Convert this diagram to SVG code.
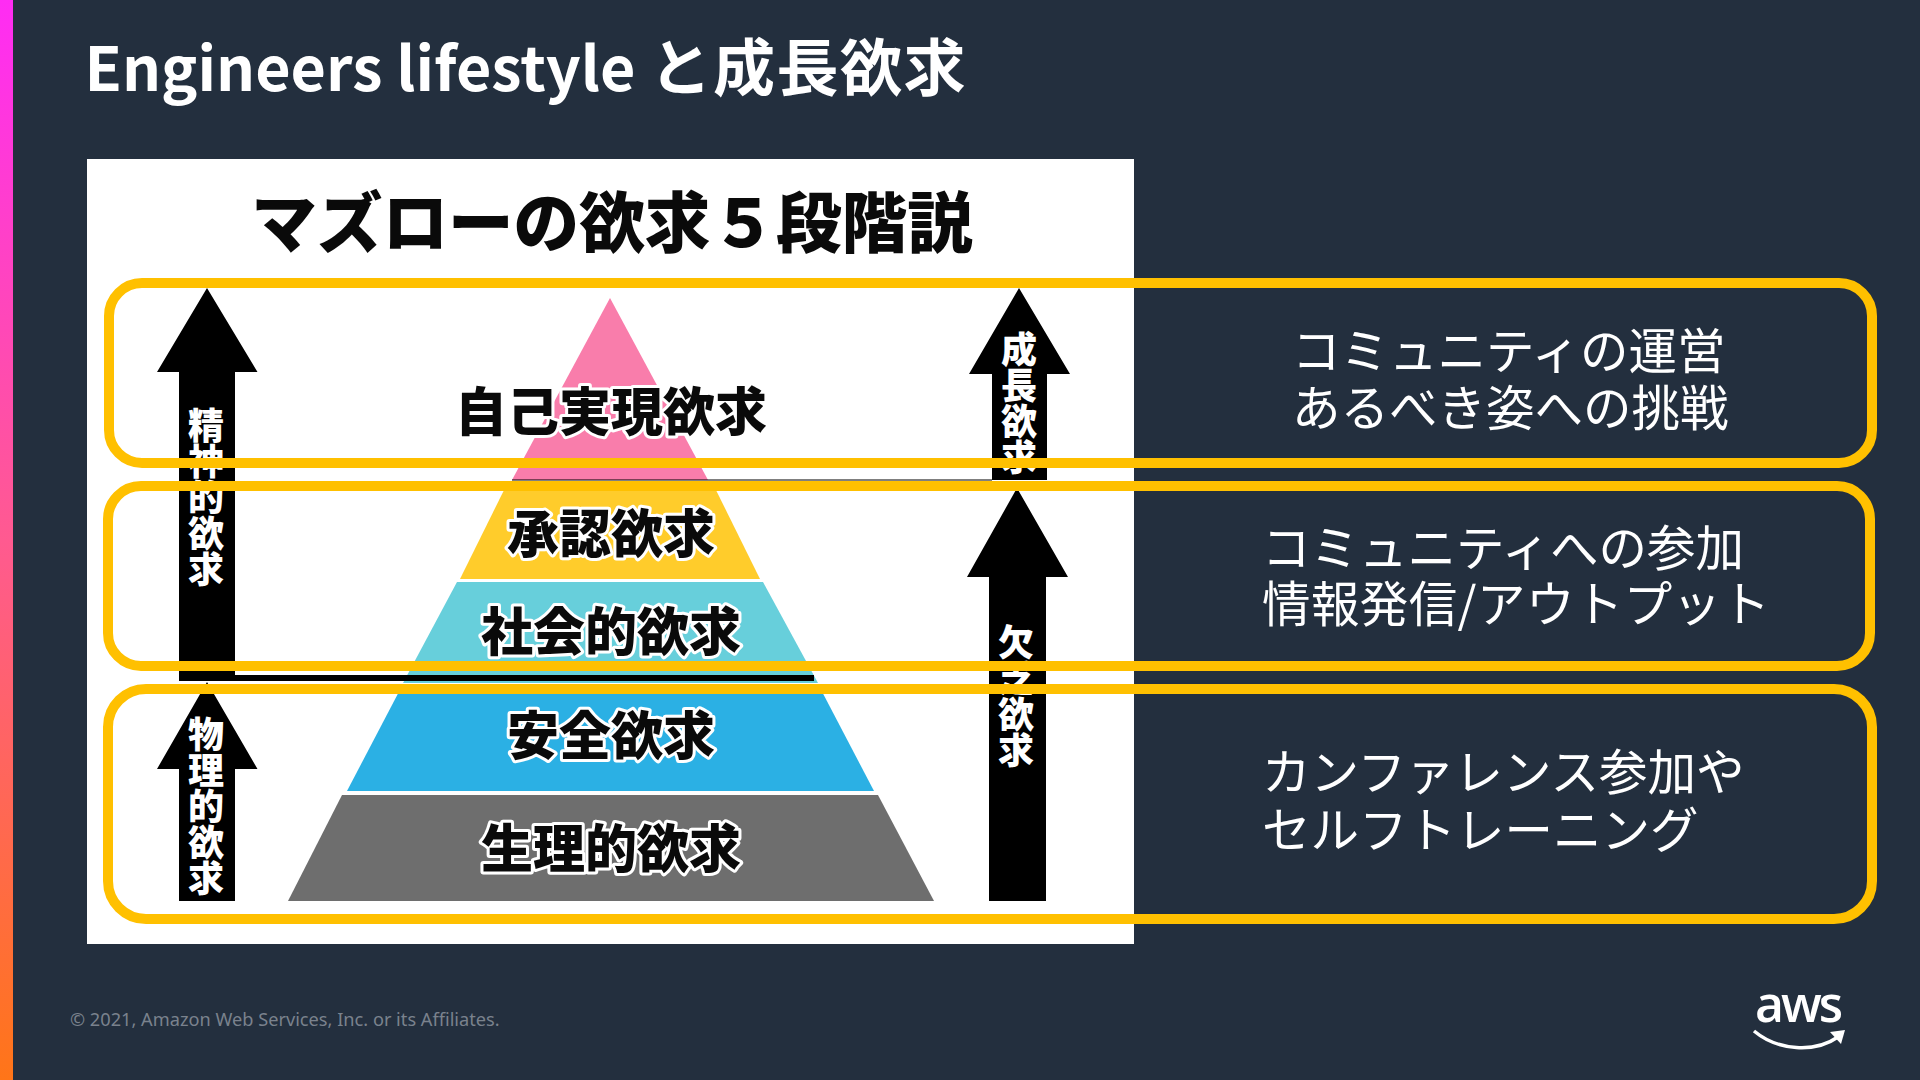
<svg xmlns="http://www.w3.org/2000/svg" width="1920" height="1080" viewBox="0 0 1920 1080">
<defs>
<linearGradient id="bar" x1="0" y1="0" x2="0" y2="1"><stop offset="0" stop-color="#FF2CF4"/><stop offset="0.5" stop-color="#FF5A90"/><stop offset="1" stop-color="#FF7518"/></linearGradient>
</defs>
<style>
.cjk{font-family:"Noto Sans CJK JP","Noto Sans",sans-serif}
.lab{font-family:"Noto Sans CJK JP",sans-serif;font-weight:900;font-size:52px;text-anchor:middle;fill:#0a0a0a;stroke:#fff;stroke-width:6px;paint-order:stroke;stroke-linejoin:round}
.vert{font-family:"Noto Sans CJK JP",sans-serif;font-weight:900;font-size:36px;fill:#fff;writing-mode:vertical-rl;text-orientation:upright}
.side{font-family:"Noto Sans CJK JP",sans-serif;font-weight:400;font-size:48.500px;fill:#fff}
.box{fill:none;stroke:#FFC000;stroke-width:10}
</style>
<rect width="1920" height="1080" fill="#232F3E"/>
<rect id="accent-bar" width="13" height="1080" fill="url(#bar)"/>
<text id="title" class="cjk" x="84.500" y="91" font-size="62" font-weight="700" fill="#fff"><tspan font-size="61">Engineers lifestyle </tspan><tspan letter-spacing="1.500">と成長欲求</tspan></text>
<g id="chart">
<rect x="87" y="159" width="1047" height="785" fill="#fff"/>
<text class="cjk" x="612" y="247" font-size="65.600" font-weight="900" text-anchor="middle" fill="#0a0a0a">マズローの欲求５段階説</text>
<g id="pyramid">
<polygon points="610,298 708,480 512,480" fill="#F97DAB"/>
<polygon points="508,482 712,482 760,579 460,579" fill="#FFCC2B"/>
<polygon points="457,582 763,582 818,683 403,683" fill="#67CFDB"/>
<polygon points="403,684 818,684 874,791 347,791" fill="#2BB0E4"/>
<polygon points="342,795 878,795 934,901 288,901" fill="#6E6E6E"/>
<rect x="235" y="675" width="579" height="6" fill="#000"/>
<rect x="512" y="479.500" width="480" height="1" fill="#000"/>
<text class="lab" x="611" y="431">自己実現欲求</text>
<text class="lab" x="611" y="553">承認欲求</text>
<text class="lab" x="611" y="651">社会的欲求</text>
<text class="lab" x="611" y="755">安全欲求</text>
<text class="lab" x="611" y="868">生理的欲求</text>
</g>
<g id="arrows">
<polygon points="207,288 257.500,372 235,372 235,681 179,681 179,372 157,372"/>
<polygon points="207,682 257.500,769 235,769 235,901 179,901 179,769 157,769"/>
<polygon points="1019,288 1070,374 1047,374 1047,480 992,480 992,374 969,374"/>
<polygon points="1017,488 1068,577 1046,577 1046,901 989,901 989,577 967,577"/>
<text class="vert" x="206" y="407">精神的欲求</text>
<text class="vert" x="206" y="716">物理的欲求</text>
<text class="vert" x="1019" y="331">成長欲求</text>
<text class="vert" x="1016" y="624">欠乏欲求</text>
</g>
</g>
<g id="side-text">
<text class="side"><tspan x="1292" y="369">コミュニティの運営</tspan><tspan x="1292" y="426">あるべき姿への挑戦</tspan></text>
<text class="side"><tspan x="1262" y="566">コミュニティへの参加</tspan><tspan x="1262" y="622" letter-spacing="0.400">情報発信/アウトプット</tspan></text>
<text class="side"><tspan x="1262" y="790">カンファレンス参加や</tspan><tspan x="1262" y="848">セルフトレーニング</tspan></text>
</g>
<g id="boxes">
<rect id="box-growth" class="box" x="109" y="283" width="1763" height="180" rx="33"/>
<rect id="box-social" class="box" x="108" y="486" width="1762" height="180" rx="33"/>
<rect id="box-basic" class="box" x="108" y="689" width="1764" height="230" rx="38"/>
</g>
<text id="copyright" x="70" y="1026" font-family="'Noto Sans',sans-serif" font-size="18.200" fill="#7A828D">© 2021, Amazon Web Services, Inc. or its Affiliates.</text>
<g id="aws-logo">
<text x="1755" y="1022" font-family="'Open Sans',sans-serif" font-size="50" font-weight="600" fill="#fff" textLength="88">aws</text>
<path d="M1754,1031 C1778,1051 1815,1053 1838,1037" fill="none" stroke="#fff" stroke-width="3.500"/>
<path d="M1830,1032 L1845,1030 L1841,1044 Z" fill="#fff"/>
</g>
</svg>
